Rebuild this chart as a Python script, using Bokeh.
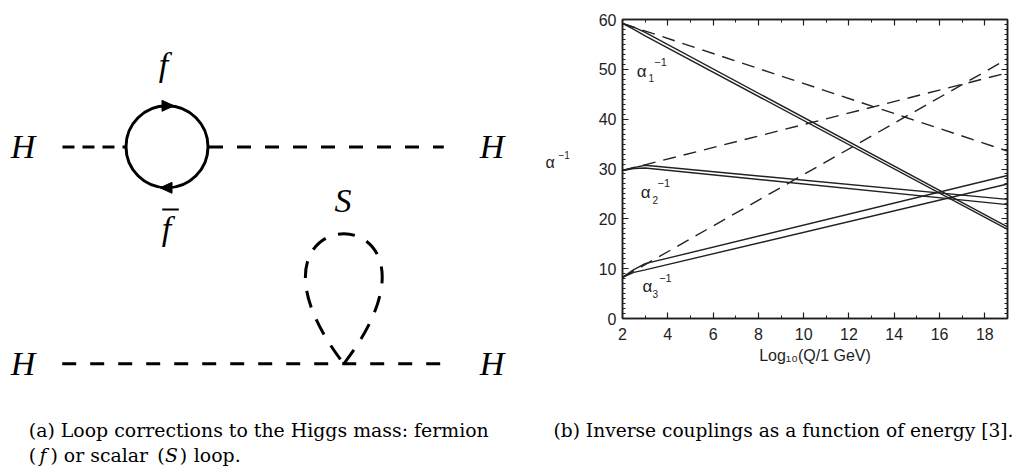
import math
from bokeh.plotting import figure
from bokeh.layouts import column, row
from bokeh.models import Range1d, LinearAxis, FixedTicker
from bokeh.core.properties import value
from bokeh.embed import file_html
from bokeh.resources import INLINE

# ---- running inverse couplings, log10(Q / 1 GeV) ----
# Standard Model (dashed)
sm_x = [2, 19]
sm_a1 = [59.2, 33.6]
sm_a2 = [29.7, 49.3]
sm_a3 = [8.25, 52.1]

# MSSM with two SUSY thresholds (solid pairs)
mssm_x = [2, 2.5, 3, 19]
mssm_a1_hi = [59.2, 58.45, 57.4, 18.4]
mssm_a1_lo = [59.2, 58.0, 56.7, 17.9]
mssm_a2_hi = [29.7, 30.28, 30.75, 23.9]
mssm_a2_lo = [29.7, 30.1, 30.2, 22.85]
mssm_a3_hi = [8.25, 9.8, 11.0, 28.7]
mssm_a3_lo = [8.25, 9.25, 9.75, 27.0]

x_major = [2, 4, 6, 8, 10, 12, 14, 16, 18]
y_major = [0, 10, 20, 30, 40, 50, 60]

INK = "#1e1e1e"
SANS = "Liberation Sans"
SERIF = "Liberation Serif"
CAP = "DejaVu Serif"

# Bokeh sets "alphabetic" text a little low; lift by a fraction of the font size
LIFT = 0.36


def lifted(baselines, size):
    return [b - LIFT * size for b in baselines]


# ---------------- Feynman diagrams (pixel coordinates) ----------------
d = figure(width=570, height=405, x_range=Range1d(0, 570), y_range=Range1d(405, 0),
           output_backend="svg", toolbar_location=None, min_border=0)
d.frame_align = False
d.axis.visible = False
d.grid.visible = False
d.outline_line_color = None

lw = 3
# fermion loop
d.line([62, 125.5], [146.5, 146.5], line_width=lw, line_color="black", line_dash="12 8")
d.line([207.5, 443.3], [146.5, 146.5], line_width=lw, line_color="black",
       line_dash="14 14", line_dash_offset=-1)
d.circle(x=[166.5], y=[146.3], radius=41, fill_color=None, line_color="black", line_width=lw)
# arrowheads on the loop
d.patch([173.5, 161.5, 161.5], [105.3, 99.8, 110.8], color="black")
d.patch([159.5, 171.5, 171.5], [187.3, 181.8, 192.8], color="black")

# scalar loop (tadpole)
vx, vy = 343.3, 363.3
L = 218.6
ang = math.radians(127.5)
p1 = (vx + L * math.cos(ang), vy - L * math.sin(ang))
p2 = (vx - L * math.cos(ang), vy - L * math.sin(ang))
d.line([61.7, 443.3], [vy, vy], line_width=lw, line_color="black", line_dash="14 14")
d.bezier(x0=[vx], y0=[vy], x1=[vx], y1=[vy], cx0=[p2[0]], cy0=[p2[1]],
         cx1=[p1[0]], cy1=[p1[1]], line_width=lw, line_color="black", line_dash="17 13")

# particle labels
d.text(x=[22.5, 491.5, 22.5, 491.5, 163, 166, 342.5],
       y=lifted([158, 158, 375, 375, 76, 240, 212.5], 34),
       text=["H", "H", "H", "H", "f", "f", "S"],
       text_font=value(SERIF), text_font_style="italic", text_font_size="34px",
       text_align="center", text_baseline="alphabetic", text_color="black")
d.line([161.7, 178.3], [209, 209], line_width=2, line_color="black")

# y-axis title of the coupling plot (horizontal, left of the tick labels)
d.text(x=[545], y=lifted([168], 16), text=["\u03b1"], text_font=value(SANS),
       text_font_size="16px", text_color=INK, text_baseline="alphabetic")
d.text(x=[558], y=lifted([158.5], 10), text=["\u22121"], text_font=value(SANS),
       text_font_size="10px", text_color=INK, text_baseline="alphabetic")

# ---------------- coupling plot ----------------
p = figure(width=446, height=405, x_range=Range1d(2, 19), y_range=Range1d(0, 60),
           output_backend="svg", toolbar_location=None,
           min_border_left=52, min_border_right=9, min_border_top=19, min_border_bottom=87)
p.frame_align = False
p.grid.visible = False
p.outline_line_color = INK
p.outline_line_width = 1.5

xt = FixedTicker(ticks=x_major, minor_ticks=list(range(2, 20)))
yt = FixedTicker(ticks=y_major, minor_ticks=list(range(0, 61)))


def style_axis(ax, labels=True):
    ax.major_tick_in = 6
    ax.major_tick_out = 0
    ax.minor_tick_in = 3
    ax.minor_tick_out = 0
    ax.axis_line_color = INK
    ax.axis_line_width = 1.5
    ax.major_tick_line_color = INK
    ax.minor_tick_line_color = INK
    ax.major_tick_line_width = 1.2
    ax.minor_tick_line_width = 1
    if labels:
        ax.major_label_text_font = SANS
        ax.major_label_text_font_size = "16px"
        ax.major_label_text_color = INK
    else:
        ax.major_label_text_font_size = "1px"
        ax.major_label_text_color = None
        ax.major_label_standoff = 0


p.xaxis.ticker = xt
p.yaxis.ticker = yt
style_axis(p.xaxis[0])
style_axis(p.yaxis[0])
p.xaxis.major_label_standoff = 9
p.yaxis.major_label_standoff = 6
p.xaxis.axis_label = "Log\u2081\u2080(Q/1 GeV)"
p.xaxis.axis_label_text_font = SANS
p.xaxis.axis_label_text_font_size = "16px"
p.xaxis.axis_label_text_font_style = "normal"
p.xaxis.axis_label_text_color = INK
p.xaxis.axis_label_standoff = 4

top = LinearAxis(ticker=xt)
style_axis(top, labels=False)
p.add_layout(top, "above")
right = LinearAxis(ticker=yt)
style_axis(right, labels=False)
p.add_layout(right, "right")

lc = "#222222"
slw = 1.4
p.line(sm_x, sm_a1, line_color=lc, line_width=slw, line_dash="13 8")
p.line(sm_x, sm_a2, line_color=lc, line_width=slw, line_dash="13 8")
p.line(sm_x, sm_a3, line_color=lc, line_width=slw, line_dash="13 8")
for ys in (mssm_a1_hi, mssm_a1_lo, mssm_a2_hi, mssm_a2_lo, mssm_a3_hi, mssm_a3_lo):
    p.line(mssm_x, ys, line_color=lc, line_width=slw)

# curve labels: alpha_i^{-1} (y lifted by LIFT * size, converted to data units)
px_per_unit = 299 / 60.0
p.text(x=[2.63, 2.81, 2.88], y=[v + LIFT * 17 / px_per_unit for v in (48.4, 24.0, 5.23)],
       text=["\u03b1", "\u03b1", "\u03b1"],
       text_font=value(SANS), text_font_size="17px", text_color=INK, text_baseline="alphabetic")
p.text(x=[3.15, 3.33, 3.33], y=[v + LIFT * 10 / px_per_unit for v in (47.6, 23.0, 4.22)],
       text=["1", "2", "3"],
       text_font=value(SANS), text_font_size="10px", text_color=INK, text_baseline="alphabetic")
p.text(x=[3.40, 3.55, 3.62], y=[v + LIFT * 11 / px_per_unit for v in (50.6, 26.3, 7.24)],
       text=["\u22121", "\u22121", "\u22121"],
       text_font=value(SANS), text_font_size="11px", text_color=INK, text_baseline="alphabetic")

# ---------------- captions ----------------
c = figure(width=1016, height=66, x_range=Range1d(0, 1016), y_range=Range1d(471, 405),
           output_backend="svg", toolbar_location=None, min_border=0)
c.frame_align = False
c.axis.visible = False
c.grid.visible = False
c.outline_line_color = None

cap_kw = dict(text_font=value(CAP), text_color="black", text_baseline="alphabetic")
c.text(x=[28.3], y=lifted([436.7], 18.9), text=["(a) Loop corrections to the Higgs mass: fermion"],
       text_font_size="18.9px", text_align="left", **cap_kw)
c.text(x=[553], y=lifted([436.7], 18.6), text=["(b) Inverse couplings as a function of energy [3]."],
       text_font_size="18.6px", text_align="left", **cap_kw)
c.text(x=[28.3, 50, 63.3, 156.7, 179.3, 193.3], y=lifted([461.5] * 6, 18.9),
       text=["(", ")", "or scalar", "(", ")", "loop."],
       text_font_size="18.9px", text_align="left", **cap_kw)
c.text(x=[42.5, 171], y=lifted([461.5] * 2, 18.9), text=["f", "S"], text_font_style="italic",
       text_font_size="18.9px", text_align="center", **cap_kw)

page = column(row(d, p), c)
open("out.html", "w").write(file_html(page, INLINE))
